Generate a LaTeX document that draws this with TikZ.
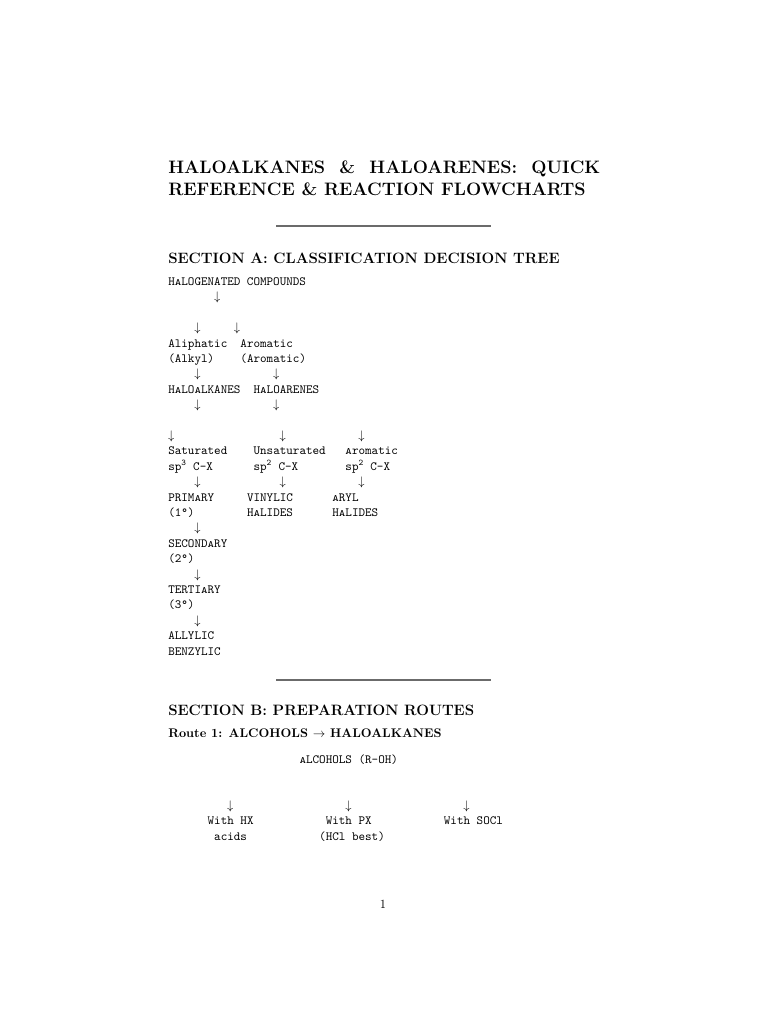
\documentclass[tikz,border=0pt]{standalone}
\usetikzlibrary{positioning}
\newcommand{\sa}{\textsc{a}}
\begin{document}
\begin{tikzpicture}[x=0.8pt,y=-0.8pt,
  tt/.style={anchor=base west, inner sep=0pt, font=\ttfamily\fontsize{10}{12}\selectfont},
  dn/.style={anchor=base, inner sep=0pt, font=\fontsize{10}{12}\selectfont},
  head/.style={anchor=base west, inner sep=0pt},
  hrule/.style={line width=1.6pt, black!58}]
\useasboundingbox[fill=white] (0,0) rectangle (768,1024);

% Title
\node[head, font=\bfseries\fontsize{14.4}{18}\selectfont] (t1) at (168,174)
  {\makebox[345.6pt][s]{HALOALKANES \& HALOARENES: QUICK}};
\node[head, font=\bfseries\fontsize{14.4}{18}\selectfont] (t2) at (168,196)
  {REFERENCE \& REACTION FLOWCHARTS};
\draw[hrule] (276,226) -- (491,226);

% Section A
\node[head, font=\bfseries\fontsize{12}{14}\selectfont] (sa) at (168,264)
  {SECTION A: CLASSIFICATION DECISION TREE};

\begin{scope}[shift={(168,285.5)}, x=5.25pt, y=-12.32pt]
\node[tt] (hc) at (0,0) {H\sa LOGENATED COMPOUNDS};
\node[dn] (a1) at (7.5,1) {$\downarrow$};
\node[dn] (a2) at (4.5,3) {$\downarrow$};
\node[dn] (a3) at (10.5,3) {$\downarrow$};
\node[tt] (al1) at (0,4) {Aliphatic};
\node[tt] (ar1) at (11,4) {Aromatic};
\node[tt] (al2) at (0,5) {(Alkyl)};
\node[tt] (ar2) at (11,5) {(Aromatic)};
\node[dn] (a4) at (4.5,6) {$\downarrow$};
\node[dn] (a5) at (16.5,6) {$\downarrow$};
\node[tt] (hk) at (0,7) {H\sa LO\sa LKANES};
\node[tt] (hr) at (13,7) {H\sa LOARENES};
\node[dn] (a6) at (4.5,8) {$\downarrow$};
\node[dn] (a7) at (16.5,8) {$\downarrow$};
\node[dn] (a8) at (0.5,10) {$\downarrow$};
\node[dn] (a9) at (17.5,10) {$\downarrow$};
\node[dn] (a10) at (29.5,10) {$\downarrow$};
\node[tt] (s1) at (0,11) {Saturated};
\node[tt] (u1) at (13,11) {Unsaturated};
\node[tt] (r1) at (27,11) {\sa romatic};
\node[tt] (s2) at (0,12) {sp\textsuperscript{3} C-X};
\node[tt] (u2) at (13,12) {sp\textsuperscript{2} C-X};
\node[tt] (r2) at (27,12) {sp\textsuperscript{2} C-X};
\node[dn] (a11) at (4.5,13) {$\downarrow$};
\node[dn] (a12) at (17.5,13) {$\downarrow$};
\node[dn] (a13) at (29.5,13) {$\downarrow$};
\node[tt] (p1) at (0,14) {PRIM\sa RY};
\node[tt] (v1) at (12,14) {VINYLIC};
\node[tt] (y1) at (25,14) {\sa RYL};
\node[tt] (p2) at (0,15) {(1°)};
\node[tt] (v2) at (12,15) {H\sa LIDES};
\node[tt] (y2) at (25,15) {H\sa LIDES};
\node[dn] (a14) at (4.5,16) {$\downarrow$};
\node[tt] (sc1) at (0,17) {SECOND\sa RY};
\node[tt] (sc2) at (0,18) {(2°)};
\node[dn] (a15) at (4.5,19) {$\downarrow$};
\node[tt] (te1) at (0,20) {TERTI\sa RY};
\node[tt] (te2) at (0,21) {(3°)};
\node[dn] (a16) at (4.5,22) {$\downarrow$};
\node[tt] (ay) at (0,23) {ALLYLIC};
\node[tt] (bz) at (0,24) {BENZYLIC};
\end{scope}

\draw[hrule] (276,680) -- (491,680);

% Section B
\node[head, font=\bfseries\fontsize{12}{14}\selectfont] (sb) at (168,715)
  {SECTION B: PREPARATION ROUTES};
\node[head, font=\bfseries\fontsize{10}{12}\selectfont] (r1h) at (168,737)
  {Route 1: ALCOHOLS $\rightarrow$ HALOALKANES};

\begin{scope}[shift={(168,763)}, x=5.25pt, y=-12.32pt]
\node[tt] (alc) at (20,0) {\sa LCOHOLS (R-OH)};
\node[dn] (b1) at (9.5,3) {$\downarrow$};
\node[dn] (b2) at (27.5,3) {$\downarrow$};
\node[dn] (b3) at (45.5,3) {$\downarrow$};
\node[tt] (w1) at (6,4) {With HX};
\node[tt] (w2) at (24,4) {With PX};
\node[tt] (w3) at (42,4) {With SOCl};
\node[tt] (w1b) at (7,5) {acids};
\node[tt] (w2b) at (23,5) {(HCl best)};
\end{scope}

\node[anchor=base, inner sep=0pt, font=\fontsize{10}{12}\selectfont] (pg) at (383,908) {1};
\end{tikzpicture}
\end{document}
